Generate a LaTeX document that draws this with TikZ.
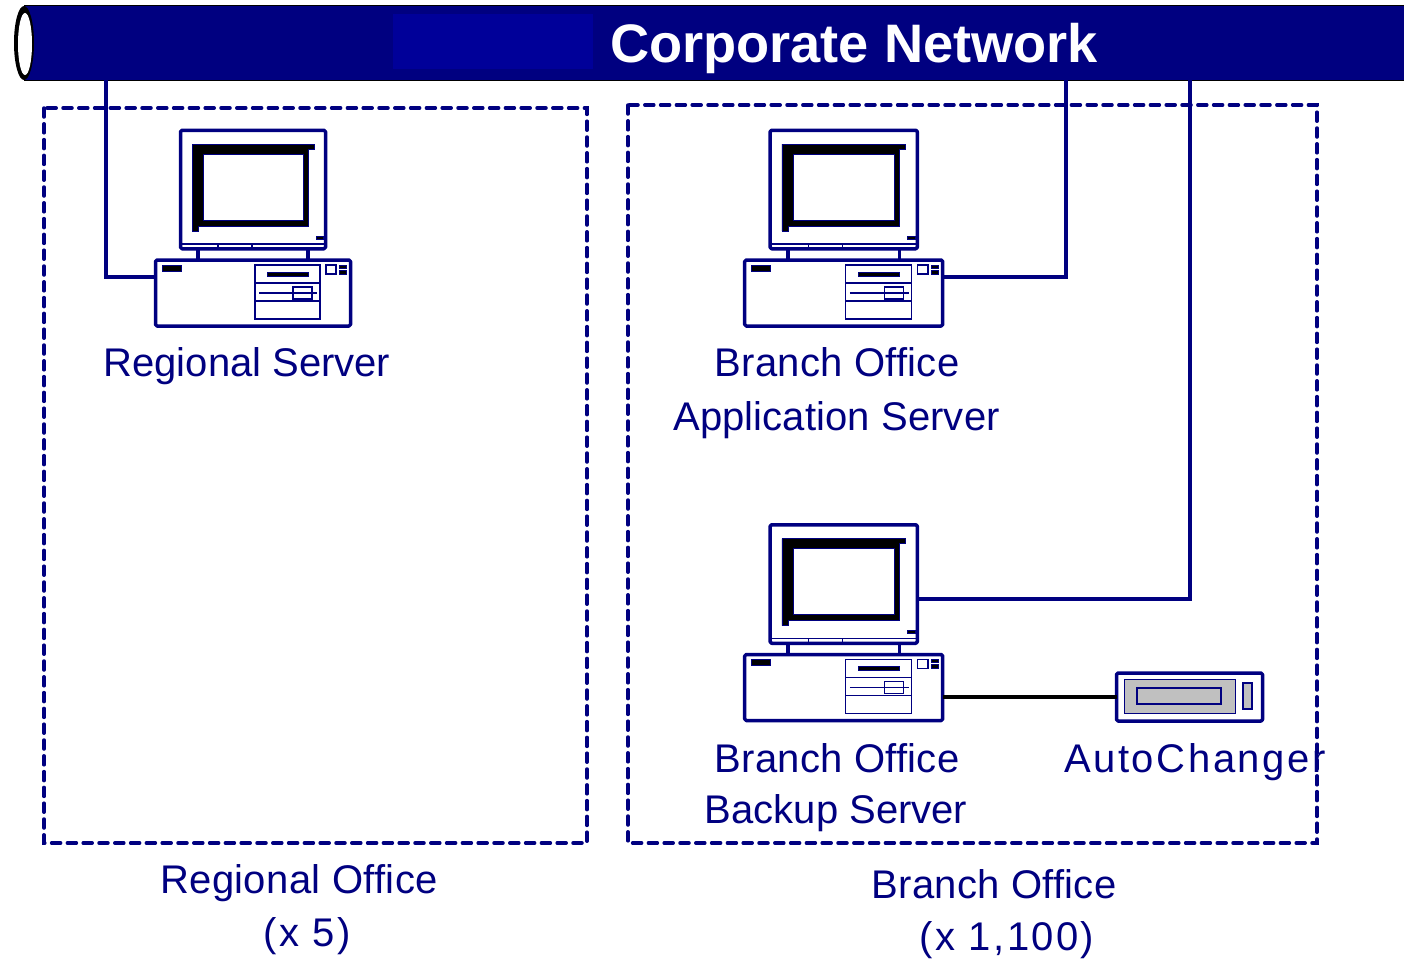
\documentclass[tikz,border=0pt]{standalone}
\usepackage{fontspec}
\usetikzlibrary{shapes.geometric}
\setmainfont{Liberation Sans}
\definecolor{netblue}{HTML}{000080}
\definecolor{netlight}{HTML}{000099}
\definecolor{devgray}{HTML}{C0C0C0}
\newcommand{\wide}[1]{\addfontfeature{LetterSpace=#1}}
\tikzset{
  heavy/.style={draw=netblue,line width=3.5pt,line join=round},
  thin line/.style={draw=netblue,line width=1.2pt},
  blackpart/.style={fill=black,draw=netblue,line width=0.5pt},
  officebox/.style={draw=netblue,line width=3.5pt,dash pattern=on 9pt off 6.8pt,line cap=round},
  link/.style={draw=netblue,line width=3.2pt,line join=miter},
  lbl/.style={text=netblue,font=\fontsize{40}{40}\selectfont,anchor=base,inner sep=0pt},
  boxnode/.style={rectangle,inner sep=0pt,outer sep=0pt,transform shape,fill=white,heavy,rounded corners=1.5pt},
  pics/computer/.style={code={
    % origin: left edge of the case, top of the monitor
    \draw[heavy] (44,118) -- (44,130);
    \draw[heavy] (154,118) -- (154,130);
    \node[boxnode,minimum width=145pt,minimum height=118.5pt] (monitor) at (99,60.5) {};
    \node[boxnode,minimum width=195pt,minimum height=66pt] (case) at (99,164) {};
    \coordinate (portcase) at (0,148);
    \coordinate (portcaseE) at (197,148);
    \coordinate (portmon) at (172,75.5);
    \coordinate (portlink) at (197,174);
    % monitor details
    \draw[blackpart,even odd rule] (38,15) -- (160,15) -- (160,20) -- (154,20) -- (154,97) -- (44,97) -- (44,102) -- (38,102) -- cycle
      (49,25) rectangle (149,91);
    \fill[black,draw=netblue,line width=0.4pt] (162,107) rectangle (169,110);
    \draw[thin line] (28,115) -- (170,115);
    \draw[thin line] (64,115) -- (64,119) (98,115) -- (98,119);
    % case details
    \fill[black,draw=netblue,line width=0.4pt] (8,136) rectangle (27,142);
    \draw[thin line] (101,136) rectangle (166,190);
    \draw[thin line] (101,154) -- (166,154) (101,172) -- (166,172);
    \fill[black,draw=netblue,line width=0.4pt] (113,143) rectangle (154,147);
    \draw[thin line] (105,164) -- (163,164);
    \draw[thin line] (139,158) rectangle (158,170);
    \draw[thin line] (172,136) rectangle (182,145);
    \fill[black,draw=netblue,line width=0.4pt] (185,136) rectangle (192,139);
    \fill[black,draw=netblue,line width=0.4pt] (185,141) rectangle (192,145);
  }}
}
\begin{document}
\begin{tikzpicture}[x=1pt,y=-1pt]
\useasboundingbox (0,0) rectangle (1404,958);
% corporate network pipe
\node[rectangle,fill=netblue,draw=black,line width=1pt,inner sep=0pt,outer sep=0pt,minimum width=1384pt,minimum height=74pt] (bar) at (716,43) {};
\fill[netlight] (393,14) rectangle (593,69);
\node[ellipse,fill=black,inner sep=0pt,minimum width=20pt,minimum height=74pt] (pipeend) at (24,43) {};
\node[ellipse,fill=white,inner sep=0pt,minimum width=14pt,minimum height=62pt] (pipehole) at (25,44) {};
\node[font=\fontsize{54.2}{54}\selectfont\bfseries,text=white,anchor=base,inner sep=0pt] (title) at (854,63) {Corporate Network};
% office boxes
\draw[officebox] (44,108) rectangle (587,843);
\draw[officebox] (628,105) rectangle (1317,843);
% computers
\pic (reg) at (154,129) {computer};
\begin{scope}[xscale=1.0153]
\pic[transform shape] (app) at (732,129) {computer};
\pic[transform shape] (bak) at (732,523.5) {computer};
\end{scope}
% autochanger
\node[boxnode,minimum width=146pt,minimum height=48pt] (auto) at (1189.5,697) {};
\draw[draw=netblue,line width=1pt,fill=devgray] (1124,679) rectangle (1235,713);
\draw[draw=netblue,line width=2pt] (1137,688) rectangle (1221,704);
\draw[draw=netblue,line width=1.5pt,fill=devgray] (1243,683) rectangle (1252,709);
% connectors
\coordinate (tapA) at (106,80);
\coordinate (tapB) at (1066,80);
\coordinate (tapC) at (1190,80);
\draw[link] (tapA) |- (regportcase);
\draw[link] (tapB) |- (appportcaseE);
\draw[link] (tapC) |- (bakportmon);
\draw[draw=black,line width=3.2pt] (bakportlink |- auto.west) -- (auto.west);
% labels
\node[lbl] (l1) at (247,376) {Regional Server};
\node[lbl] (l2) at (837,376) {\wide{0.8}Branch Office};
\node[lbl] (l3) at (836.5,430) {\wide{0.3}Application Server};
\node[lbl] (l4) at (837,772) {\wide{0.8}Branch Office};
\node[lbl] (l5) at (836,823) {Backup Server};
\node[lbl] (l6) at (1195,772) {\wide{6.5}AutoChanger};
\node[lbl] (l7) at (299,893) {\wide{0.9}Regional Office};
\node[lbl] (l8) at (307,946) {\wide{5.6}(x 5)};
\node[lbl] (l9) at (994,898) {\wide{0.8}Branch Office};
\node[lbl] (l10) at (1007,950) {\wide{6}(x 1,100)};
\end{tikzpicture}
\end{document}
